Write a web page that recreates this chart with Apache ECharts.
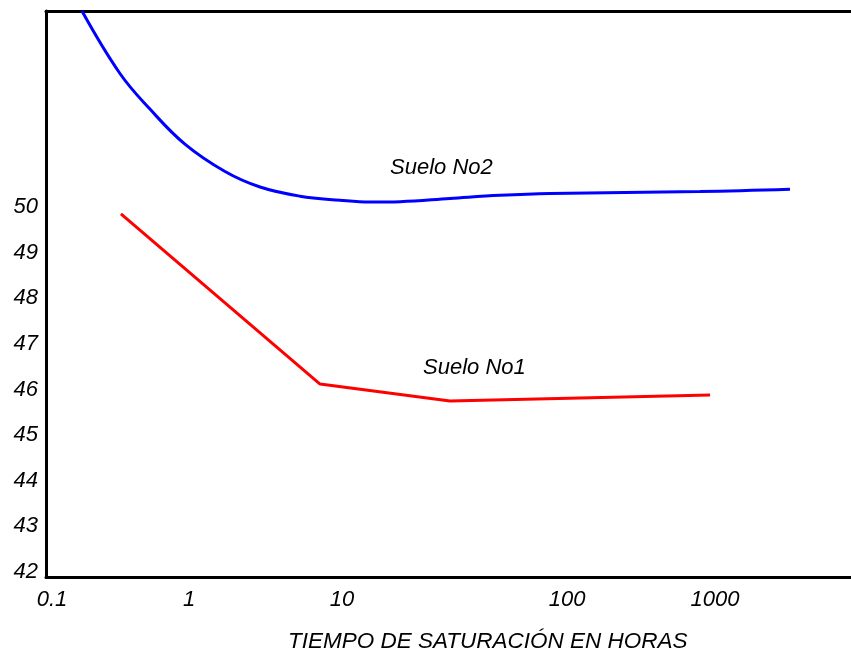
<!DOCTYPE html>
<html>
<head>
<meta charset="utf-8">
<script src="https://cdn.jsdelivr.net/npm/echarts@6/dist/echarts.min.js"></script>
<style>
  html, body { margin: 0; padding: 0; background: #fff; }
  #main { width: 851px; height: 654px; }
</style>
</head>
<body>
<div id="main"></div>
<script>
// posicion en el eje X (escala del grafico original, 0.1 h = 0, 1000 h = 4)
var xTickPos = [0, 0.827, 1.750, 3.107, 4];
var xTickLabels = ['0.1', '1', '10', '100', '1000'];
var yTicks = [42, 43, 44, 45, 46, 47, 48, 49, 50];

// Suelo No2 (azul)
var suelo2X = [0.181, 0.410, 0.591, 0.802, 1.044, 1.255, 1.496, 1.738, 1.919, 2.100, 2.401, 2.703, 3.005, 3.909, 4.452];
var suelo2Y = [54.30, 52.93, 52.15, 51.38, 50.78, 50.44, 50.24, 50.15, 50.11, 50.12, 50.19, 50.26, 50.30, 50.34, 50.39];

// Suelo No1 (rojo)
var suelo1X = [0.416, 1.617, 2.401, 3.970];
var suelo1Y = [49.85, 46.12, 45.75, 45.88];

var font = 'Liberation Sans, Arial, sans-serif';

function pairs(xs, ys) {
    var out = [];
    for (var i = 0; i < xs.length; i++) {
        out.push([xs[i], ys[i]]);
    }
    return out;
}

var myChart = echarts.init(document.getElementById('main'));

var option = {
    animation: false,
    grid: { left: 46, right: 0, top: 11, bottom: 77 },
    xAxis: [{
        type: 'value',
        min: -0.036,
        max: 4.82,
        splitLine: { show: false },
        axisLine: { show: true, onZero: false, lineStyle: { color: '#000', width: 3 } },
        axisTick: { show: false },
        axisLabel: {
            customValues: xTickPos,
            margin: 12,
            color: '#000',
            fontSize: 22,
            fontStyle: 'italic',
            fontFamily: font,
            formatter: function (v) {
                for (var i = 0; i < xTickPos.length; i++) {
                    if (Math.abs(xTickPos[i] - v) < 1e-6) return xTickLabels[i];
                }
                return '';
            }
        }
    }, {
        // borde superior
        type: 'value',
        position: 'top',
        min: -0.036,
        max: 4.82,
        splitLine: { show: false },
        axisLine: { show: true, onZero: false, lineStyle: { color: '#000', width: 3 } },
        axisTick: { show: false },
        axisLabel: { show: false }
    }],
    yAxis: {
        type: 'value',
        min: 41.89,
        max: 54.3,
        splitLine: { show: false },
        axisLine: { show: true, onZero: false, lineStyle: { color: '#000', width: 3 } },
        axisTick: { show: false },
        axisLabel: {
            customValues: yTicks,
            margin: 8,
            color: '#000',
            fontSize: 22,
            fontStyle: 'italic',
            fontFamily: font
        }
    },
    graphic: [{
        type: 'text',
        left: 390, top: 157,
        style: { text: 'Suelo No2', fill: '#000', font: 'italic 22px ' + font }
    }, {
        type: 'text',
        left: 423, top: 357,
        style: { text: 'Suelo No1', fill: '#000', font: 'italic 22px ' + font }
    }, {
        type: 'text',
        left: 288, top: 630,
        style: { text: 'TIEMPO DE SATURACIÓN EN HORAS', fill: '#000', font: 'italic 22.5px ' + font }
    }],
    series: [{
        name: 'Suelo No2',
        type: 'line',
        data: pairs(suelo2X, suelo2Y),
        smooth: 0.4,
        showSymbol: false,
        lineStyle: { color: '#0000ff', width: 3 }
    }, {
        name: 'Suelo No1',
        type: 'line',
        data: pairs(suelo1X, suelo1Y),
        showSymbol: false,
        lineStyle: { color: '#ff0000', width: 3 }
    }]
};

myChart.setOption(option);
</script>
</body>
</html>
